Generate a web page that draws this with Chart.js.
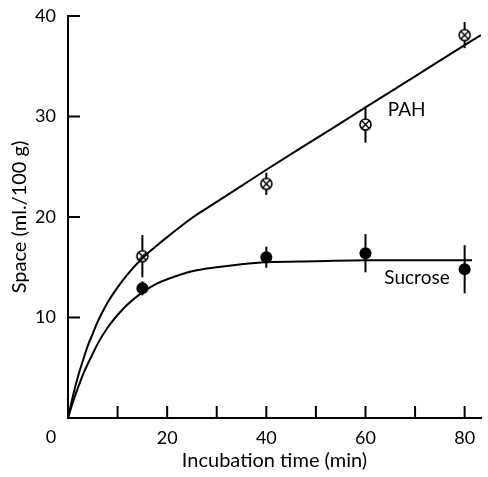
<!DOCTYPE html>
<html>
<head>
<meta charset="utf-8">
<script src="https://cdn.jsdelivr.net/npm/chart.js@4"></script>
<style>
  html, body { margin: 0; padding: 0; background: #fff; }
  #wrap { width: 488px; height: 477px; }
</style>
</head>
<body>
<div id="wrap"><canvas id="chart"></canvas></div>
<script>
// measured points (min, ml./100 g)
const times = [15, 40, 60, 80];
const pahMean = [16.1, 23.3, 29.2, 38.1];
const pahErr = [2.1, 1.1, 1.8, 1.3];
const sucroseMean = [12.9, 16.0, 16.4, 14.8];
const sucroseErr = [0.7, 1.05, 1.9, 2.4];

// fitted curves
const pahCurveT = [0, 1, 2, 3, 4, 5, 6, 8, 10, 12, 15, 18, 20, 25, 30, 35, 40, 50, 60, 70, 80, 83.3];
const pahCurveV = [0, 2.2, 4.1, 5.7, 7.2, 8.4, 9.6, 11.5, 13.0, 14.3, 15.9, 17.2, 18.0, 19.9, 21.5, 23.1, 24.7, 27.8, 30.9, 34.0, 37.1, 38.1];
const sucCurveT = [0, 1, 2, 3, 4, 5, 6, 8, 10, 12, 15, 18, 20, 25, 30, 35, 40, 50, 60, 70, 81.5];
const sucCurveV = [0, 1.6, 3.0, 4.3, 5.4, 6.4, 7.4, 9.0, 10.25, 11.3, 12.5, 13.4, 13.8, 14.6, 15.0, 15.3, 15.5, 15.6, 15.7, 15.7, 15.7];

const FONT = 'Lato, "Open Sans", sans-serif';

// circled-cross marker for PAH
function crossCircle(r) {
  const c = document.createElement('canvas');
  const s = Math.ceil(r * 2 + 4);
  c.width = s; c.height = s;
  const g = c.getContext('2d');
  const m = s / 2;
  g.beginPath();
  g.arc(m, m, r, 0, Math.PI * 2);
  g.fillStyle = '#fff';
  g.fill();
  g.lineWidth = 1.6;
  g.strokeStyle = '#000';
  g.stroke();
  const d = r * 0.62;
  g.beginPath();
  g.moveTo(m - d, m - d); g.lineTo(m + d, m + d);
  g.moveTo(m + d, m - d); g.lineTo(m - d, m + d);
  g.lineWidth = 1.4;
  g.stroke();
  return c;
}

const errorBars = {
  id: 'errorBars',
  beforeDatasetsDraw(chart) {
    const ctx = chart.ctx, x = chart.scales.x, y = chart.scales.y;
    ctx.save();
    ctx.strokeStyle = '#000';
    ctx.lineWidth = 2;
    const sets = [[pahMean, pahErr], [sucroseMean, sucroseErr]];
    sets.forEach(([mean, err]) => {
      times.forEach((t, i) => {
        const px = x.getPixelForValue(t);
        ctx.beginPath();
        ctx.moveTo(px, y.getPixelForValue(mean[i] + err[i]));
        ctx.lineTo(px, y.getPixelForValue(mean[i] - err[i]));
        ctx.stroke();
      });
    });
    ctx.restore();
  }
};

const extras = {
  id: 'extras',
  afterDraw(chart) {
    const ctx = chart.ctx, x = chart.scales.x, y = chart.scales.y;
    const x0 = x.getPixelForValue(0), y0 = y.getPixelForValue(0);
    ctx.save();
    ctx.strokeStyle = '#000';
    ctx.lineWidth = 2;
    // inward tick marks
    for (let v = 10; v <= 80; v += 10) {
      const px = x.getPixelForValue(v);
      ctx.beginPath(); ctx.moveTo(px, y0); ctx.lineTo(px, y0 - 12); ctx.stroke();
    }
    for (let v = 10; v <= 40; v += 10) {
      const py = y.getPixelForValue(v);
      ctx.beginPath(); ctx.moveTo(x0, py); ctx.lineTo(x0 + 12, py); ctx.stroke();
    }
    ctx.fillStyle = '#000';
    ctx.font = '18px ' + FONT;
    ctx.textBaseline = 'middle';
    ctx.textAlign = 'center';
    ctx.fillText('0', x0 - 17, y0 + 19);
    ctx.textAlign = 'left';
    ctx.font = '19px ' + FONT;
    ctx.fillText('PAH', x.getPixelForValue(64.5), y.getPixelForValue(30.7));
    ctx.fillText('Sucrose', x.getPixelForValue(63.8), y.getPixelForValue(13.9));
    ctx.restore();
  }
};

const toXY = (xs, ys) => xs.map((t, i) => ({ x: t, y: ys[i] }));

new Chart(document.getElementById('chart'), {
  type: 'scatter',
  data: {
    datasets: [
      {
        label: 'PAH fit', data: toXY(pahCurveT, pahCurveV), showLine: true,
        borderColor: '#000', borderWidth: 2, pointRadius: 0, cubicInterpolationMode: 'monotone'
      },
      {
        label: 'Sucrose fit', data: toXY(sucCurveT, sucCurveV), showLine: true,
        borderColor: '#000', borderWidth: 2, pointRadius: 0, cubicInterpolationMode: 'monotone'
      },
      {
        label: 'PAH', data: toXY(times, pahMean),
        pointStyle: crossCircle(5.5), pointRadius: 6
      },
      {
        label: 'Sucrose', data: toXY(times, sucroseMean),
        pointStyle: 'circle', pointRadius: 6, backgroundColor: '#000', borderColor: '#000', borderWidth: 0
      }
    ]
  },
  options: {
    responsive: true,
    maintainAspectRatio: false,
    animation: false,
    layout: { padding: { top: 16, right: 4, left: 0, bottom: 0 } },
    plugins: { legend: { display: false }, tooltip: { enabled: false } },
    scales: {
      x: {
        type: 'linear', min: 0, max: 83.3,
        afterFit: s => { s.height = 59; s.paddingLeft = 0; s.paddingRight = 0; },
        grid: { display: false, drawTicks: false },
        border: { display: true, color: '#000', width: 2 },
        ticks: {
          stepSize: 10, includeBounds: false, padding: 9, color: '#000',
          font: { family: FONT, size: 18 }, maxRotation: 0, autoSkip: false,
          callback: v => (v > 0 && v % 20 === 0 ? String(v) : '')
        },
        title: {
          display: true, text: 'Incubation time (min)', color: '#000',
          font: { family: FONT, size: 20 }, padding: { top: 0 }
        }
      },
      y: {
        type: 'linear', min: 0, max: 40,
        afterFit: s => { s.width = 68; s.paddingTop = 0; s.paddingBottom = 0; },
        grid: { display: false, drawTicks: false },
        border: { display: true, color: '#000', width: 2 },
        ticks: {
          stepSize: 10, padding: 12, color: '#000',
          font: { family: FONT, size: 18 },
          callback: v => (v > 0 ? String(v) : '')
        },
        title: {
          display: true, text: 'Space (ml./100 g)', color: '#000',
          font: { family: FONT, size: 20 }, padding: { top: 8 }
        }
      }
    }
  },
  plugins: [errorBars, extras]
});
</script>
</body>
</html>
